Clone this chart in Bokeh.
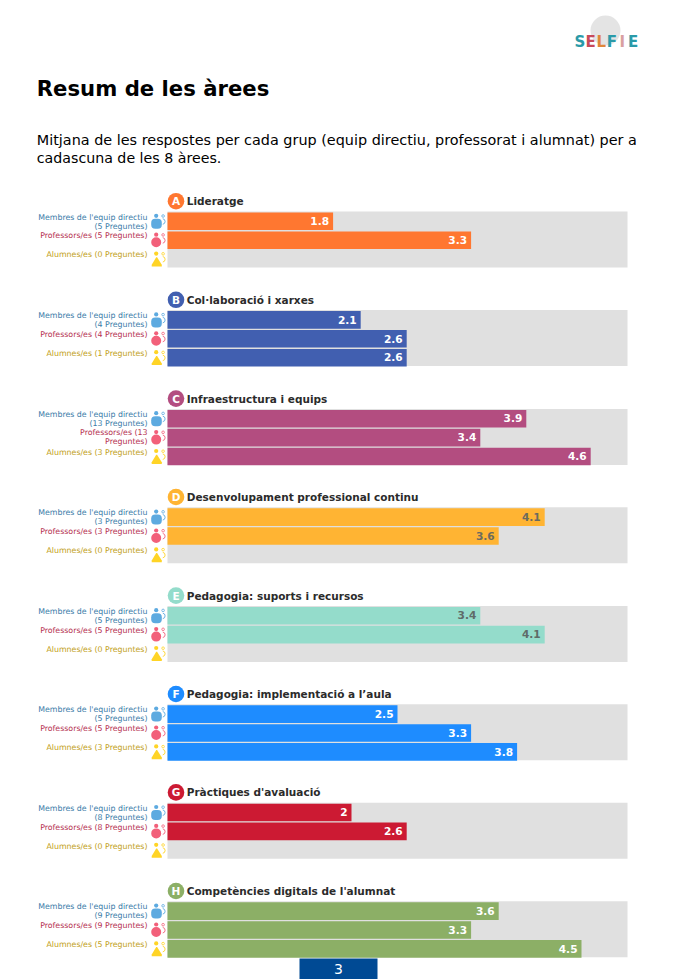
from bokeh.plotting import figure
from bokeh.models import Range1d
from bokeh.core.properties import value
from bokeh.embed import file_html
from bokeh.resources import INLINE

letters = ["A", "B", "C", "D", "E", "F", "G", "H"]
areas = ["Lideratge", "Col·laboració i xarxes", "Infraestructura i equips",
         "Desenvolupament professional continu", "Pedagogia: suports i recursos",
         "Pedagogia: implementació a l’aula", "Pràctiques d'avaluació",
         "Competències digitals de l'alumnat"]
colors = ["#FF7730", "#415FB0", "#B34D80", "#FFB433", "#94DCCB", "#1E8CFF", "#CC1A33", "#8CAF66"]
value_colors = ["white", "white", "white", "#6B6B5F", "#5F6B68", "white", "white", "white"]
scores_leaders = [1.8, 2.1, 3.9, 4.1, 3.4, 2.5, 2, 3.6]
scores_teachers = [3.3, 2.6, 3.4, 3.6, 4.1, 3.3, 2.6, 3.3]
scores_students = [None, 2.6, 4.6, None, None, 3.8, None, 4.5]
n_leaders = [5, 4, 13, 3, 5, 5, 8, 9]
n_teachers = [5, 4, 13, 3, 5, 5, 8, 9]
n_students = [0, 1, 3, 0, 0, 3, 0, 5]
groups = ["Membres de l'equip directiu", "Professors/es", "Alumnes/es"]
group_text = ["#3A7CA8", "#B5304F", "#BFA020"]
group_icon = ["#5DAAE0", "#F2607A", "#FFD426"]
score_max = 5
title = "Resum de les àrees"
intro = ["Mitjana de les respostes per cada grup (equip directiu, professorat i alumnat) per a",
         "cadascuna de les 8 àrees."]
logo_letters = list("SELFIE")
logo_colors = ["#2A9AA8", "#C84A5A", "#E0873A", "#2A9AA8", "#D9A0A0", "#2A9AA8"]
page_number = "3"

W, H = 677, 979
PX = 92.0  # pixels per score unit
X0 = 167
p = figure(width=W, height=H, output_backend="svg", toolbar_location=None,
           x_range=Range1d(-X0 / PX, (W - X0) / PX), y_range=Range1d(H, 0),
           min_border=0, outline_line_color=None, background_fill_color="white")
p.axis.visible = False
p.grid.visible = False

F = value("DejaVu Sans")
def X(px):
    return (px - X0) / PX

def label(x, y, t, size, color, style="normal", align="left", base="middle"):
    p.text([x], [y], text=[t], text_font=F, text_font_size=value(f"{size}px"), text_color=color,
           text_font_style=style, text_align=align, text_baseline=base)

# header
p.circle([X(605)], [30], radius=15 / PX, fill_color="#E4E4E4", line_color=None)
for i, (c, col) in enumerate(zip(logo_letters, logo_colors)):
    label(X(579.5 + i * 10.6), 41, c, 15, col, "bold", "center")
label(X(36.3), 87.5, title, 21.2, "black", "bold")
label(X(36.3), 139.5, intro[0], 14.4, "black")
label(X(36.3), 157.5, intro[1], 14.2, "black")

tops = [211, 309.6, 408.4, 506.8, 605.4, 703.8, 802.2, 900.8]
PITCH, BH = 18.9, 17.6
LBL = 7.85
for a, top in enumerate(tops):
    col = colors[a]
    p.quad(left=[0], right=[score_max], top=[top], bottom=[top + 56], fill_color="#E0E0E0", line_color=None)
    # badge and heading
    p.circle([X(175.5)], [top - 10.3], radius=8.3 / PX, fill_color=col, line_color=None)
    label(X(175.5), top - 10.3, letters[a], 10.5, "white", "bold", "center")
    label(X(186.2), top - 10.3, areas[a], 10.5, "#2B2B2B", "bold")
    vals = [scores_leaders[a], scores_teachers[a], scores_students[a]]
    counts = [n_leaders[a], n_teachers[a], n_students[a]]
    for r in range(3):
        y = top + 1 + r * PITCH
        v = vals[r]
        if v is not None:
            p.quad(left=[0], right=[v], top=[y], bottom=[y + BH], fill_color=col, line_color=None)
            label(v - 4 / PX, y + BH / 2 - .3, str(v), 10.6, value_colors[a], "bold", "right")
        # group label
        full = f"{groups[r]} ({counts[r]} Preguntes)"
        xr = X(147)
        tc = group_text[r]
        if r == 0:
            label(xr, y + 4.5, groups[r], LBL, tc, "normal", "right")
            label(xr, y + 13.5, f"({counts[r]} Preguntes)", LBL, tc, "normal", "right")
        elif a == 2 and r == 1:
            label(xr, y + 4, f"{groups[r]} ({counts[r]}", LBL, tc, "normal", "right")
            label(xr, y + 12.9, "Preguntes)", LBL, tc, "normal", "right")
        else:
            label(xr, y + 4.5, full, LBL, tc, "normal", "right")
        # icon
        ic = group_icon[r]
        cy = y
        p.circle([X(155.7)], [cy + 3.3], radius=2.1 / PX, fill_color=ic, line_color=None)
        if r == 0:
            p.quad(left=[X(150.7)], right=[X(161.3)], top=[cy + 6.3], bottom=[cy + 16.3],
                   fill_color=ic, line_color=None, border_radius=4)
        elif r == 1:
            p.circle([X(155.7)], [cy + 10.8], radius=5 / PX, fill_color=ic, line_color=None)
        else:
            p.patch([X(151.2), X(155.7), X(156.6), X(161.3), X(161.3), X(151.2)],
                    [cy + 14.5, cy + 7, cy + 7, cy + 14.5, cy + 16.2, cy + 16.2],
                    fill_color=ic, line_color=None)
        p.circle([X(162.6)], [cy + 3.5], radius=1.3 / PX, fill_color=None, line_color=ic, line_width=.8)
        p.arc([X(161.8)], [cy + 9], radius=2.8 / PX, start_angle=-1.4, end_angle=1.4,
              line_color=ic, line_width=.9)

# page number
p.quad(left=[X(299)], right=[X(377)], top=[958], bottom=[979], fill_color="#004A94", line_color=None)
label(X(338), 968.5, page_number, 14, "white", "normal", "center")

open("out.html", "w").write(file_html(p, INLINE))
